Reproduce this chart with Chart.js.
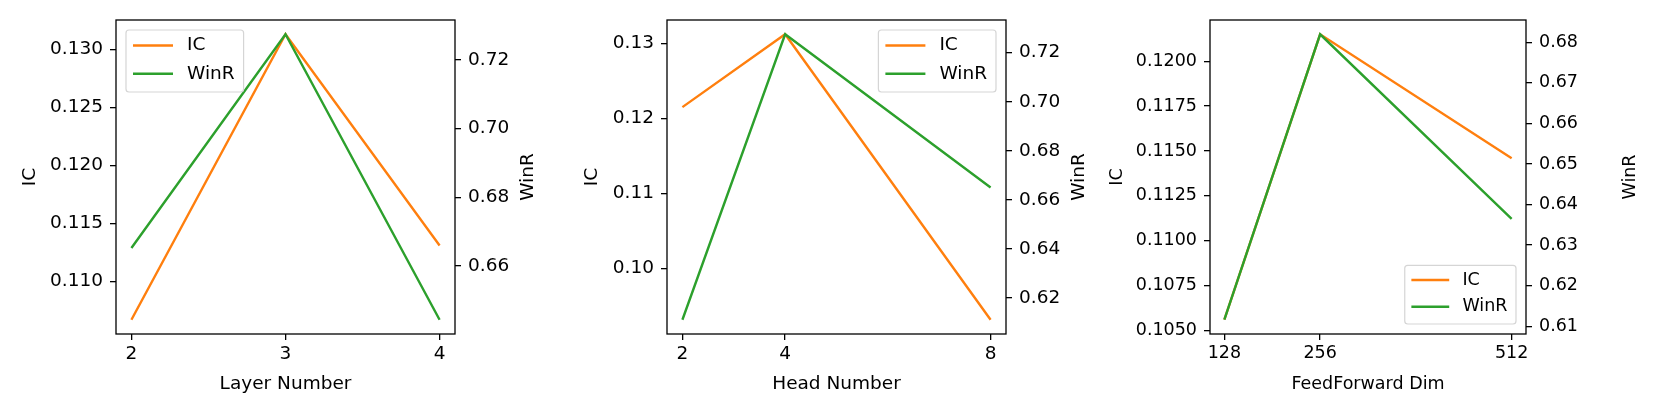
<!DOCTYPE html>
<html>
<head>
<meta charset="utf-8">
<script src="https://cdn.jsdelivr.net/npm/chart.js@4.4.1/dist/chart.umd.min.js"></script>
<style>
  html, body { margin: 0; padding: 0; background: #fff; }
  #wrap { position: relative; width: 1661px; height: 415px; }
  .panel { position: absolute; top: 0; }
</style>
</head>
<body>
<div id="wrap">
  <div class="panel" style="left:0px"><canvas id="c1" width="560" height="415"></canvas></div>
  <div class="panel" style="left:560px"><canvas id="c2" width="540" height="415"></canvas></div>
  <div class="panel" style="left:1100px"><canvas id="c3" width="561" height="415"></canvas></div>
</div>
<script>
//--data--//
const layerNumbers = [2, 3, 4];
const layerIC = [0.1067, 0.1313, 0.1131];
const layerWinR = [0.6652, 0.7275, 0.6443];
const layerICTicks = [0.110, 0.115, 0.120, 0.125, 0.130];
const layerWinRTicks = [0.66, 0.68, 0.70, 0.72];

const headNumbers = [2, 4, 8];
const headIC = [0.1215, 0.1312, 0.0932];
const headWinR = [0.6112, 0.7275, 0.6651];
const headICTicks = [0.10, 0.11, 0.12, 0.13];
const headWinRTicks = [0.62, 0.64, 0.66, 0.68, 0.70, 0.72];

const ffDims = [128, 256, 512];
const ffIC = [0.1056, 0.1215, 0.1146];
const ffWinR = [0.6116, 0.6820, 0.6365];
const ffICTicks = [0.1050, 0.1075, 0.1100, 0.1125, 0.1150, 0.1175, 0.1200];
const ffWinRTicks = [0.61, 0.62, 0.63, 0.64, 0.65, 0.66, 0.67, 0.68];
//--data--//

Chart.defaults.font.family = "'DejaVu Sans', sans-serif";
Chart.defaults.color = '#000';

const FONT = "'DejaVu Sans', sans-serif";

// matplotlib style 5% margins
function padRange(vals) {
  const lo = Math.min(...vals), hi = Math.max(...vals);
  const m = (hi - lo) * 0.05;
  return [lo - m, hi + m];
}

const framePlugin = {
  id: 'frame',
  afterDatasetsDraw(chart) {
    const { ctx, chartArea: a } = chart;
    ctx.save();
    ctx.strokeStyle = '#000';
    ctx.lineWidth = 1.3;
    ctx.strokeRect(a.left, a.top, a.right - a.left, a.bottom - a.top);
    ctx.restore();
  }
};

const boxLegend = {
  id: 'boxLegend',
  afterDraw(chart, args, opts) {
    const { ctx, chartArea: a } = chart;
    const fs = opts.fontSize;
    const f = fs / 18.5;
    ctx.save();
    ctx.font = fs + 'px ' + FONT;
    const items = chart.data.datasets.map(d => ({ label: d.label, color: d.borderColor }));
    const tw = Math.max(...items.map(i => ctx.measureText(i.label).width));
    const lineLen = 40 * f, padL = 7 * f, gap = 14 * f, padR = 9 * f;
    const w = padL + lineLen + gap + tw + padR;
    const h = 62 * f;
    const inset = 10;
    const x = opts.loc.includes('left') ? a.left + inset : a.right - inset - w;
    const y = opts.loc.includes('upper') ? a.top + inset : a.bottom - inset - h;
    ctx.beginPath();
    ctx.roundRect(x, y, w, h, 3);
    ctx.fillStyle = 'rgba(255,255,255,0.8)';
    ctx.fill();
    ctx.strokeStyle = '#d5d5d5';
    ctx.lineWidth = 1.2;
    ctx.stroke();
    items.forEach((it, i) => {
      const ry = y + 15.5 * f + i * 28.3 * f;
      ctx.beginPath();
      ctx.moveTo(x + padL, ry);
      ctx.lineTo(x + padL + lineLen, ry);
      ctx.strokeStyle = it.color;
      ctx.lineWidth = 2.4;
      ctx.stroke();
      ctx.fillStyle = '#000';
      ctx.textBaseline = 'middle';
      ctx.textAlign = 'left';
      ctx.fillText(it.label, x + padL + lineLen + gap, ry);
    });
    ctx.restore();
  }
};

const rightTitle = {
  id: 'rightTitle',
  afterDraw(chart, args, opts) {
    const { ctx, chartArea: a } = chart;
    ctx.save();
    ctx.font = opts.fontSize + 'px ' + FONT;
    ctx.fillStyle = '#000';
    ctx.translate(a.right + opts.offset, (a.top + a.bottom) / 2);
    ctx.rotate(-Math.PI / 2);
    ctx.textAlign = 'center';
    ctx.textBaseline = 'middle';
    ctx.fillText(opts.text, 0, 0);
    ctx.restore();
  }
};

function makePanel(id, p) {
  const xr = padRange(p.xs);
  const icr = padRange(p.ic);
  const wr = padRange(p.winr);
  const fs = p.fontSize;
  const grid = { drawOnChartArea: false, drawTicks: true, tickLength: 6, color: '#000', lineWidth: 1.3 };

  new Chart(document.getElementById(id).getContext('2d'), {
    type: 'line',
    data: {
      datasets: [
        {
          label: 'IC',
          data: p.xs.map((x, i) => ({ x: x, y: p.ic[i] })),
          borderColor: '#ff7f0e',
          borderWidth: 2.4,
          pointRadius: 0,
          tension: 0,
          yAxisID: 'y',
          order: 1
        },
        {
          label: 'WinR',
          data: p.xs.map((x, i) => ({ x: x, y: p.winr[i] })),
          borderColor: '#2ca02c',
          borderWidth: 2.4,
          pointRadius: 0,
          tension: 0,
          yAxisID: 'y1',
          order: 0
        }
      ]
    },
    options: {
      responsive: false,
      animation: false,
      layout: { padding: { top: 20, left: 0, right: 0, bottom: 0 } },
      plugins: {
        legend: { display: false },
        tooltip: { enabled: false },
        boxLegend: { loc: p.legendLoc, fontSize: fs },
        rightTitle: { text: 'WinR', fontSize: fs, offset: p.rightTitleOffset }
      },
      scales: {
        x: {
          type: 'linear',
          min: xr[0],
          max: xr[1],
          afterBuildTicks: s => { s.ticks = p.xs.map(v => ({ value: v })); },
          afterFit: s => { s.height = 81; },
          grid: grid,
          border: { display: false },
          ticks: { font: { size: fs }, padding: 3, maxRotation: 0, autoSkip: false, callback: v => String(v) },
          title: { display: true, text: p.xTitle, font: { size: fs }, padding: { top: 0, bottom: 20 } }
        },
        y: {
          type: 'linear',
          position: 'left',
          min: icr[0],
          max: icr[1],
          afterBuildTicks: s => { s.ticks = p.icTicks.map(v => ({ value: v })); },
          afterFit: s => { s.width = p.leftW; },
          grid: grid,
          border: { display: false },
          ticks: { font: { size: fs }, padding: 7, callback: v => v.toFixed(p.icDec) },
          title: { display: true, text: 'IC', font: { size: fs }, padding: { top: p.icTitlePad, bottom: 0 } }
        },
        y1: {
          type: 'linear',
          position: 'right',
          min: wr[0],
          max: wr[1],
          afterBuildTicks: s => { s.ticks = p.winrTicks.map(v => ({ value: v })); },
          afterFit: s => { s.width = p.rightW; },
          grid: grid,
          border: { display: false },
          ticks: { font: { size: fs }, padding: 7, callback: v => v.toFixed(2) }
        }
      }
    },
    plugins: [framePlugin, boxLegend, rightTitle]
  });
}

makePanel('c1', {
  xs: layerNumbers, ic: layerIC, winr: layerWinR,
  icTicks: layerICTicks, winrTicks: layerWinRTicks, icDec: 3,
  xTitle: 'Layer Number', legendLoc: 'upper left',
  leftW: 116, rightW: 105, fontSize: 18.5, icTitlePad: 19, rightTitleOffset: 73
});

makePanel('c2', {
  xs: headNumbers, ic: headIC, winr: headWinR,
  icTicks: headICTicks, winrTicks: headWinRTicks, icDec: 2,
  xTitle: 'Head Number', legendLoc: 'upper right',
  leftW: 107, rightW: 94, fontSize: 18.5, icTitlePad: 21, rightTitleOffset: 73
});

makePanel('c3', {
  xs: ffDims, ic: ffIC, winr: ffWinR,
  icTicks: ffICTicks, winrTicks: ffWinRTicks, icDec: 4,
  xTitle: 'FeedForward Dim', legendLoc: 'lower right',
  leftW: 110, rightW: 135, fontSize: 17.5, icTitlePad: 7, rightTitleOffset: 104
});
</script>
</body>
</html>
